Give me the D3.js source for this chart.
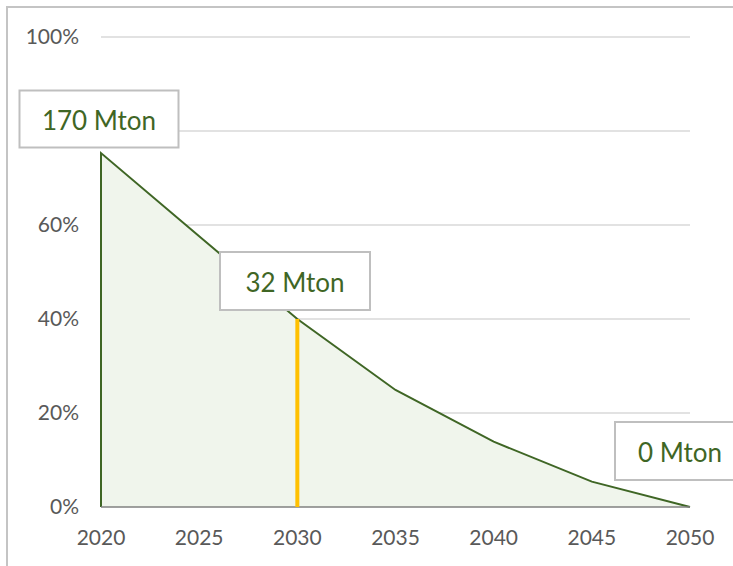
<!DOCTYPE html>
<html>
<head>
<meta charset="utf-8">
<script src="https://cdn.jsdelivr.net/npm/d3@7"></script>
<style>
  body { margin: 0; background: #fff; }
  svg { display: block; font-family: Lato, "Open Sans", sans-serif; }
</style>
</head>
<body>
<div id="chart"></div>
<script>
var w = 733,
	h = 566;

// data
var years = [2020, 2025, 2030, 2035, 2040, 2045, 2050];
var share = [0.753, 0.576, 0.40, 0.249, 0.139, 0.054, 0];
var yTicks = [0, 0.2, 0.4, 0.6, 1.0];
var gridTicks = [0.2, 0.4, 0.6, 0.8, 1.0];
var labelYears = [2020, 2030, 2050];
var labelTexts = ["170 Mton", "32 Mton", "0 Mton"];
var markerYear = 2030;

var svg = d3.select("#chart").append("svg")
	.attr("width", w)
	.attr("height", h);

// frame
svg.append("path")
	.attr("d", "M7," + h + "V7H" + w)
	.attr("fill", "none")
	.attr("stroke", "#c4c4c4")
	.attr("stroke-width", 2);

var x = d3.scaleLinear().domain([2020, 2050]).range([101, 690]);
var y = d3.scaleLinear().domain([0, 1]).range([507, 37]);

// gridlines
svg.selectAll(".grid")
	.data(gridTicks)
	.enter()
	.append("line")
	.attr("class", "grid")
	.attr("x1", x(2020))
	.attr("x2", x(2050))
	.attr("y1", function(d){ return y(d); })
	.attr("y2", function(d){ return y(d); })
	.attr("stroke", "#d9d9d9")
	.attr("stroke-width", 1.5);

var pts = years.map(function(d, i){ return [d, share[i]]; });

// area
var area = d3.area()
	.x(function(d){ return x(d[0]); })
	.y0(y(0))
	.y1(function(d){ return y(d[1]); });

svg.append("path")
	.datum(pts)
	.attr("d", area)
	.attr("fill", "#f0f5ec");

// outline: left edge + top line
var line = d3.line()
	.x(function(d){ return x(d[0]); })
	.y(function(d){ return y(d[1]); });

svg.append("path")
	.datum([[2020, 0]].concat(pts))
	.attr("d", line)
	.attr("fill", "none")
	.attr("stroke", "#3f6625")
	.attr("stroke-width", 2);

// x axis line
svg.append("line")
	.attr("x1", x(2020))
	.attr("x2", x(2050))
	.attr("y1", y(0))
	.attr("y2", y(0))
	.attr("stroke", "#808080")
	.attr("stroke-width", 1.5);

// 2030 marker
var mi = years.indexOf(markerYear);
svg.append("line")
	.attr("x1", x(markerYear))
	.attr("x2", x(markerYear))
	.attr("y1", y(0))
	.attr("y2", y(share[mi]))
	.attr("stroke", "#ffc000")
	.attr("stroke-width", 4);

// y tick labels
svg.selectAll(".ylab")
	.data(yTicks)
	.enter()
	.append("text")
	.attr("class", "ylab")
	.attr("x", 79)
	.attr("y", function(d){ return y(d); })
	.attr("dy", "0.35em")
	.attr("text-anchor", "end")
	.attr("font-size", "21px")
	.attr("fill", "#595959")
	.text(function(d){ return d3.format(".0%")(d); });

// x tick labels
svg.selectAll(".xlab")
	.data(years)
	.enter()
	.append("text")
	.attr("class", "xlab")
	.attr("x", function(d){ return x(d); })
	.attr("y", 538)
	.attr("dy", "0.35em")
	.attr("text-anchor", "middle")
	.attr("font-size", "21px")
	.attr("fill", "#595959")
	.text(function(d){ return d; });

// data label boxes
var boxes = [
	{ cx: 99, cy: 119, bw: 159, bh: 57 },
	{ cx: 295, cy: 281, bw: 150, bh: 58 },
	{ cx: 675, cy: 451, bw: 120, bh: 58 }
];

var lab = svg.selectAll(".dlab")
	.data(labelTexts)
	.enter()
	.append("g")
	.attr("class", "dlab")
	.attr("transform", function(d, i){ return "translate(" + boxes[i].cx + "," + boxes[i].cy + ")"; });

lab.append("rect")
	.attr("x", function(d, i){ return -boxes[i].bw / 2; })
	.attr("y", function(d, i){ return -boxes[i].bh / 2; })
	.attr("width", function(d, i){ return boxes[i].bw; })
	.attr("height", function(d, i){ return boxes[i].bh; })
	.attr("fill", "#fff")
	.attr("stroke", "#bfbfbf")
	.attr("stroke-width", 2);

lab.append("text")
	.attr("x", function(d, i){ return i == 2 ? 5 : 0; })
	.attr("y", 2)
	.attr("dy", "0.35em")
	.attr("text-anchor", "middle")
	.attr("font-size", "26px")
	.attr("fill", "#3f6625")
	.text(function(d){ return d; });
</script>
</body>
</html>
